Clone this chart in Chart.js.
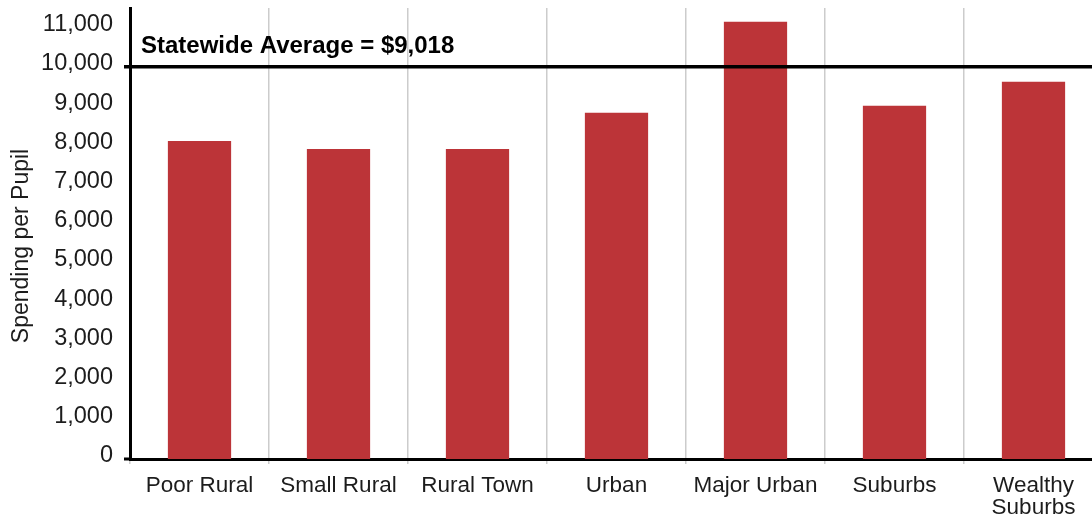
<!DOCTYPE html>
<html>
<head>
<meta charset="utf-8">
<script src="https://cdn.jsdelivr.net/npm/chart.js@4"></script>
<style>
  html, body { margin: 0; padding: 0; background: #fff; overflow: hidden; }
  #wrap { position: absolute; left: 0; top: 0; width: 1103px; height: 516px; }
</style>
</head>
<body>
<div id="wrap"><canvas id="spendChart"></canvas></div>
<script>
// Chart data
const categories = ['Poor Rural', 'Small Rural', 'Rural Town', 'Urban', 'Major Urban', 'Suburbs', ['Wealthy', 'Suburbs']];
const spending = [8110, 7905, 7905, 8830, 11150, 9010, 9620];
const yTicks = [0, 1000, 2000, 3000, 4000, 5000, 6000, 7000, 8000, 9000, 10000, 11000];
const yTitle = 'Spending per Pupil';
const averageLabel = 'Statewide Average = $9,018';
const averageLineAt = 10000;

const FONT = '"Liberation Sans", Arial, Helvetica, sans-serif';
const TEXT = '#1c1c1c';

// average line + label, axis stubs and the y title
const averagePlugin = {
    id: 'averageLine',
    afterDatasetsDraw(chart) {
        const ctx = chart.ctx;
        const area = chart.chartArea;
        const y = chart.scales.y.getPixelForValue(averageLineAt);
        ctx.save();
        ctx.strokeStyle = '#000';
        ctx.lineWidth = 3.5;
        ctx.beginPath();
        ctx.moveTo(area.left - 6, y);
        ctx.lineTo(area.right, y);
        ctx.stroke();
        // zero stub
        ctx.lineWidth = 3;
        ctx.beginPath();
        ctx.moveTo(area.left - 6, area.bottom);
        ctx.lineTo(area.left, area.bottom);
        ctx.stroke();
        ctx.fillStyle = '#000';
        ctx.font = 'bold 24px ' + FONT;
        ctx.textBaseline = 'middle';
        ctx.textAlign = 'left';
        ctx.fillText(averageLabel, area.left + 11, y - 20);
        // y title
        ctx.fillStyle = TEXT;
        ctx.font = '23px ' + FONT;
        ctx.textAlign = 'center';
        ctx.translate(22, 246);
        ctx.rotate(-Math.PI / 2);
        ctx.fillText(yTitle, 0, 0);
        ctx.restore();
    }
};

const ctx = document.getElementById('spendChart').getContext('2d');
new Chart(ctx, {
    type: 'bar',
    data: {
        labels: categories,
        datasets: [{
            data: spending,
            backgroundColor: '#bc3438',
            borderWidth: 0,
            categoryPercentage: 1,
            barPercentage: 0.455
        }]
    },
    options: {
        responsive: true,
        maintainAspectRatio: false,
        animation: false,
        layout: { padding: { top: 8, left: 0, right: 0, bottom: 0 } },
        plugins: {
            legend: { display: false },
            tooltip: { enabled: false }
        },
        scales: {
            x: {
                afterFit: s => {
                    s.height = 57;
                    s.paddingLeft = 0;
                    s.paddingRight = 0;
                },
                grid: {
                    offset: true,
                    color: '#cccccc',
                    lineWidth: 1.5,
                    tickLength: 5,
                    tickColor: '#cccccc'
                },
                border: { color: '#000', width: 3 },
                ticks: {
                    color: TEXT,
                    font: { family: FONT, size: 22.5, lineHeight: 0.98 },
                    padding: 11,
                    maxRotation: 0,
                    autoSkip: false
                }
            },
            y: {
                min: 0,
                max: 11500,
                afterFit: s => {
                    s.width = 130;
                    s.paddingTop = 0;
                    s.paddingBottom = 0;
                },
                afterBuildTicks: s => { s.ticks = yTicks.map(v => ({ value: v })); },
                grid: { display: false, drawTicks: false },
                border: { color: '#000', width: 3 },
                ticks: {
                    color: TEXT,
                    font: { family: FONT, size: 23.5 },
                    padding: 17,
                    labelOffset: -3,
                    callback: v => v.toLocaleString('en-US')
                }
            }
        }
    },
    plugins: [averagePlugin]
});
</script>
</body>
</html>
